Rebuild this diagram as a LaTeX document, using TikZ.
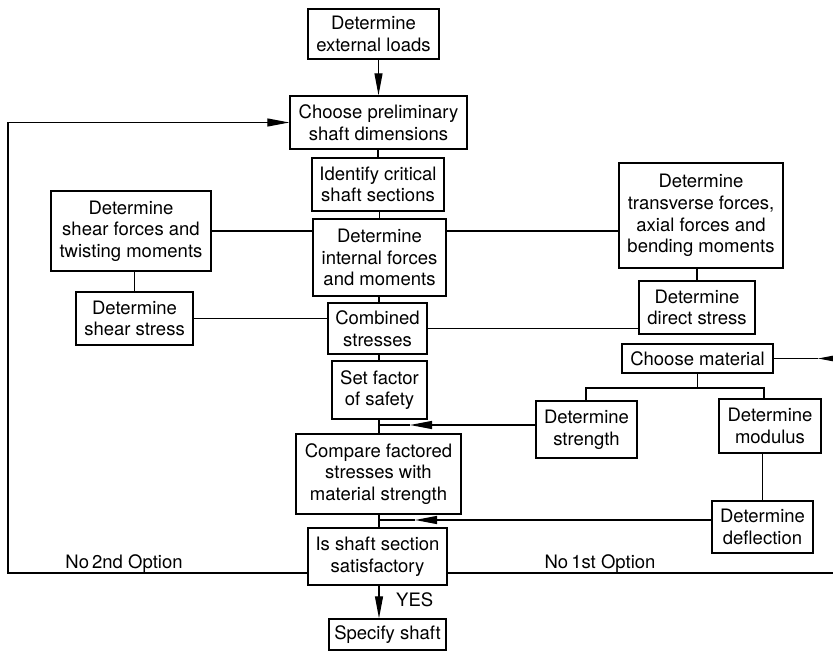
\documentclass[tikz,border=0pt]{standalone}
\usepackage{fontspec}
\setmainfont{TeX Gyre Heros}
\usetikzlibrary{arrows.meta}
\begin{document}
\begin{tikzpicture}[x=1pt,y=-1pt,
  box/.style={draw, line width=1.4pt, align=center, inner sep=0pt,
    font=\fontsize{18.5}{21.7}\selectfont},
  conn/.style={line width=1.2pt},
  arr/.style={line width=1.2pt, -{Triangle[length=22pt,width=8pt]}},
  lbl/.style={font=\fontsize{18.5}{21.7}\selectfont, inner sep=0pt}]
\useasboundingbox (0,0) rectangle (833,652);

% boxes
\node[box, minimum width=131pt, minimum height=50pt] (ext) at (373.5,34) {Determine\\external loads};
\node[box, minimum width=177pt, minimum height=53pt] (prelim) at (378.5,122.5) {Choose preliminary\\shaft dimensions};
\node[box, minimum width=132pt, minimum height=53pt] (ident) at (378,184.5) {Identify critical\\shaft sections};
\node[box, minimum width=160pt, minimum height=80pt] (shearF) at (131,231) {Determine\\shear forces and\\twisting moments};
\node[box, minimum width=133pt, minimum height=77pt] (internal) at (379.5,257.5) {Determine\\internal forces\\and moments};
\node[box, minimum width=164pt, minimum height=105pt] (trans) at (701,215.5) {Determine\\transverse forces,\\axial forces and\\bending moments};
\node[box, minimum width=117pt, minimum height=53pt] (shearS) at (134.5,318.5) {Determine\\shear stress};
\node[box, minimum width=99pt, minimum height=51pt] (comb) at (377.5,328.5) {Combined\\stresses};
\node[box, minimum width=116pt, minimum height=53pt] (direct) at (697,307.5) {Determine\\direct stress};
\node[box, minimum width=151pt, minimum height=29pt] (material) at (697.5,358.5) {Choose material};
\node[box, minimum width=95pt, minimum height=58pt] (safety) at (379.5,390) {Set factor\\of safety};
\node[box, minimum width=101pt, minimum height=57pt] (strength) at (586.5,429.5) {Determine\\strength};
\node[box, minimum width=102pt, minimum height=54pt] (modulus) at (770,426) {Determine\\modulus};
\node[box, minimum width=165pt, minimum height=80pt] (compare) at (378.5,474) {Compare factored\\stresses with\\material strength};
\node[box, minimum width=101pt, minimum height=52pt] (deflect) at (762.5,527) {Determine\\deflection};
\node[box, minimum width=139pt, minimum height=57pt] (satisf) at (377.5,556.5) {Is shaft section\\satisfactory};
\node[box, minimum width=117pt, minimum height=31pt] (specify) at (387.5,634.5) {Specify shaft};

% helper coordinates
\coordinate (j1) at (379,425);
\coordinate (t1) at (410,425);
\coordinate (j2) at (379,520);
\coordinate (t2) at (415,520);
\coordinate (L1) at (8,573);
\coordinate (R1) at (833,573);
\coordinate (mR) at (835,358.5);
\coordinate (mT) at (818,358.5);
\coordinate (bL) at (586,388);
\coordinate (bR) at (764,388);

% main spine
\draw[arr] (ext.south -| prelim.north) -- (prelim.north);
\draw[conn] (prelim.south -| ident.north) -- (ident.north);
\draw[conn] (ident.south -| internal.north) -- (internal.north);
\draw[conn] (internal.south -| j1) -- (comb.north -| j1);
\draw[conn] (comb.south -| j1) -- (safety.north -| j1);
\draw[conn] (safety.south -| j1) -- (compare.north -| j1);
\draw[conn] (compare.south -| j1) -- (satisf.north -| j1);
\draw[arr] (satisf.south -| j1) -- (specify.north -| j1);
\node[lbl, anchor=base west] (yes) at (396,606) {YES};

% left branch
\draw[conn] (shearF.east) -- (shearF.east -| internal.west);
\draw[conn] (shearS.north |- shearF.south) -- (shearS.north);
\draw[conn] (shearS.east) -- (shearS.east -| comb.west);

% right branch
\draw[conn] (internal.east |- shearF.east) -- (shearF.east -| trans.west);
\draw[conn] (direct.north |- trans.south) -- (direct.north);
\draw[conn] (comb.east) -- (comb.east -| direct.west);

% material
\draw[conn] (material.east) -- (mT);
\draw[arr] (mR) -- (mT);
\draw[conn] (material.south) -- (material.south |- bL);
\draw[conn] (strength.north -| bL) -- (bL) -- (bR) -- (bR |- modulus.north);
\draw[conn] (deflect.north |- modulus.south) -- (deflect.north);

% feedback into spine
\draw[arr] (strength.west |- t1) -- (t1);
\draw[conn] (t1) -- (j1);
\draw[arr] (deflect.west |- t2) -- (t2);
\draw[conn] (t2) -- (j2);

% loops
\draw[arr] (satisf.west |- L1) -- (L1) -- (L1 |- prelim.west) -- (prelim.west);
\draw[conn] (satisf.east |- R1) -- (R1);
\node[lbl, anchor=base] (no2) at (124,568) {No\,2nd Option};
\node[lbl, anchor=base] (no1) at (600,568) {No\,1st Option};
\end{tikzpicture}
\end{document}
